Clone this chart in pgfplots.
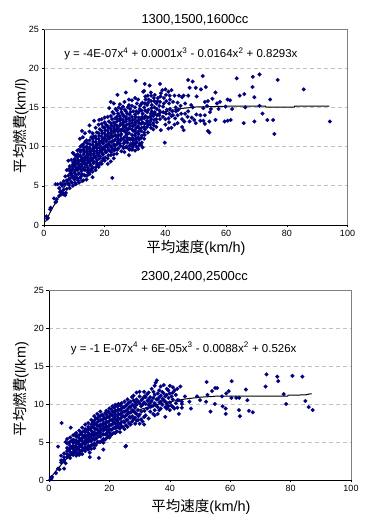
\documentclass[border=0pt]{standalone}
\usepackage{pgfplots}
\pgfplotsset{compat=1.18}
\usepackage{fontspec}
\setmainfont{Liberation Sans}
\newfontfamily\cjk{Noto Sans CJK JP}
\definecolor{pts}{HTML}{000080}
\definecolor{fr}{HTML}{808080}
\definecolor{gr}{HTML}{C0C0C0}
\pgfplotsset{
 base/.style={
  scale only axis, anchor=south west, xmin=0,xmax=100,ymin=0,ymax=25,
  xtick={0,20,40,60,80,100}, ytick={0,5,10,15,20,25},
  axis x line*=bottom, axis y line*=left, axis line style={-,black,line width=0.6pt},
  tick align=outside, major tick length=2.5pt, tick style={black,line width=0.5pt},
  ymajorgrids, grid style={gr,dash pattern=on 4pt off 3pt,line width=0.7pt},
  /pgf/number format/assume math mode=true,
  tick label style={font=\fontsize{9}{10}\selectfont},
  xticklabel style={yshift=1pt}, yticklabel style={xshift=1pt},
  clip=false,
 },
 pt/.style={only marks, mark=square*, mark size=1.4pt, mark options={rotate=45,pts,draw=pts,fill=pts,line width=0.1pt}, pts},
 tr/.style={black, line width=1pt, no marks, sharp plot},
}
\begin{document}
\begin{tikzpicture}
\useasboundingbox (0pt,0pt) rectangle (376pt,516pt);
% TOP
\begin{axis}[base, at={(44pt,291pt)}, width=303.5pt, height=196pt]
\draw[fr,line width=0.7pt] (rel axis cs:0,1) -- (rel axis cs:1,1) -- (rel axis cs:1,0);
\addplot[pt] coordinates {
(94.2,13.2)(85.6,17.3)(77,18.5)(71,19.2)(68.8,18.9)(63.5,18.7)(68.7,17.6)(69.3,16.3)(74.5,16)(75.9,11.6)(75.5,13.4)(73.6,13.4)(69.3,13.2)(65.8,13)(61.5,13.4)(60.5,13.3)(59.5,13.2)(56.5,13.4)(72,14.2)(71,15.2)(66.3,15)(66,16.7)(64.5,16.5)(60.5,16)(61.3,15.9)(52.3,19)(47.5,18.5)(49,18.3)(50,17.5)(48,17.5)(46,16.5)
(56.5,16.9)(53.3,17.6)(51.7,17.3)(50.3,16.4)(58,15.7)(57,15.5)(55.5,16.1)(54,15.8)(53,15.7)(62,14.8)(59.8,15.1)(57.5,14.8)(55,14.8)(54.7,14.4)(53.7,15.2)(52.5,14.9)(51.5,14)(50.2,14.1)(53,14)(49.5,13.4)(50,13)(51.5,13.3)(52.5,13.3)(53,12.9)(54.5,13.2)(54,12)(54.5,11.8)(48.7,13.7)(47.5,14.5)(46.5,14.2)(45.5,13.5)(44,13)(45.5,12.5)(46,12.1)(43,12.8)(42,12.4)(41,12.3)(40,12.8)(39.8,10.5)(38.5,12.1)
(45,15.2)(44,15.6)(43,16.5)(44.5,16.5)(45.5,16.3)(47.5,16.5)(48.5,15.3)(46.5,15.5)(49,15)(42,17.2)(41,17)(40,17.3)(39,17.2)(38.2,18)(38.5,16.8)(39.5,16.2)(41.5,16)(42.5,15.7)(43.5,14.5)(42.5,14)(41.5,14.8)(40.5,14.7)(39.5,15.5)(38,15.2)(40,13.5)(41,13.6)(42,13.9)(44,14)(38,14)(37,13.5)(36,13)(35,12.8)(37,12.5)(36,12.2)(33,11)(35,13.2)(34,12.5)
(30.2,18.4)(33.2,18)(34.8,17.8)(33,17.1)(32.7,17)(30,16.2)(27,16.9)(24.2,16.6)(26.5,15.7)(28,16)(29,15.9)(31,16)(32,15.4)(33.5,16)(34.5,16)(35.3,16.5)(36.5,16.6)(37.5,16.2)(37,15.5)(35.5,15.3)(34,15.3)(33,15)(31.5,14.8)(30,15)(29,15.2)(28,15.3)(26,15.1)(25,15.4)(23,15.5)(22,15.7)(21.5,14.9)(24,14.6)(25.5,14.4)(27,14.5)(28.5,14.4)(30,14.1)(31,14.3)(32.5,14.2)(34,14.4)(35.5,14.5)(36.5,14.4)(38,14.6)
(20,13.7)(19,13.5)(18.2,13.4)(16.5,13.3)(15,12.7)(13.5,11.7)(12.5,12)(11.8,11)(12.8,11.2)(14,10.8)(15,11.9)(16,11.7)(17,12.4)(18,12.8)(19,12.9)(20,13.1)(21,13.8)(22,13.9)(23,14.2)(24,13.8)(25,13.9)(26,14.1)(27,13.8)(28,13.6)(29,13.8)(30,13.5)(31,13.3)(32,13.5)(33,13.6)(34,13.3)(35,13.8)(36,13.9)
(11,9.5)(12,10)(13,10.3)(14,10)(15,10.8)(16,11)(17,11.3)(18,11.7)(19,12)(20,12.4)(21,12.6)(22,13)(23,13.1)(24,13.2)(25,13.3)(26,13.4)(27,13.2)(28,12.9)(29,13)(30,12.8)(31,12.6)(32,12.9)(33,12.5)(34,13.1)
(9.5,9.2)(10,9)(11,9)(12,9.3)(13,9.6)(14,9.4)(15,9.9)(16,10.2)(17,10.6)(18,11)(19,11.3)(20,11.7)(21,12)(22,12.3)(23,12.5)(24,12.7)(25,12.7)(26,12.8)(27,12.4)(28,12.3)(29,12.2)(30,12.1)(31,11.9)(32,12)(33,11.8)
(9,8.3)(10,8.4)(11,8.6)(12,8.8)(13,9)(14,8.8)(15,9.4)(16,9.6)(17,10)(18,10.4)(19,10.7)(20,11.1)(21,11.4)(22,11.7)(23,11.9)(24,12.1)(25,12.1)(26,12.2)(27,11.8)(28,11.7)(29,11.5)(30,11.4)(31,11.2)(32,11.1)
(8,8.2)(8.5,7.5)(9.5,7.7)(10.5,7.9)(11.5,8.1)(12.5,8.4)(13.5,8.3)(14.5,8.7)(15.5,9.1)(16.5,9.4)(17.5,9.8)(18.5,10.1)(19.5,10.5)(20.5,10.8)(21.5,11.1)(22.5,11.3)(23.5,11.5)(24.5,11.5)(25.5,11.6)(26.5,11.2)(27.5,11.1)(28.5,10.9)(29.5,10.8)(30.5,10.6)(31.5,10.4)
(7.5,7)(8.5,6.9)(9.5,7.1)(10.5,7.3)(11.5,7.5)(12.5,7.8)(13.5,7.7)(14.5,8.2)(15.5,8.5)(16.5,8.8)(17.5,9.2)(18.5,9.5)(19.5,9.9)(20.5,10.2)(21.5,10.5)(22.5,10.7)(23.5,10.9)(24.5,10.9)(25.5,11)(26.5,10.6)(27.5,10.5)(28.5,10.3)(29.5,10.2)(30.5,10)(32,10.2)(32.5,9.9)
(7,6.2)(8,6.3)(9,6.5)(10,6.7)(11,7)(12,7.2)(13,7.1)(14,7.6)(15,7.9)(16,8.2)(17,8.6)(18,8.9)(19,9.3)(20,9.6)(21,9.9)(22,10.1)(23,10.3)(24,10.3)(25,10.4)(26,10)(27,9.9)(28,9.7)(29,9.6)(30,9.5)(31,9.7)
(6.5,5.6)(7.5,5.7)(8.5,5.9)(9.5,6.1)(10.5,6.4)(11.5,6.6)(12.5,6.5)(13.5,7)(14.5,7.3)(15.5,7.6)(16.5,8)(17.5,8.3)(18.5,8.7)(19.5,9)(20.5,9.3)(21.5,9.5)(22.5,9.7)(23.5,9.7)(24.5,9.8)(25.5,9.4)(28,8.9)(26.5,9.3)(23,8.5)(22,8.1)(21,7.8)(22.5,6)
(6,5)(7,5.2)(8,5.3)(9,5.5)(10,5.8)(11,6)(12,6)(13,5.7)(14,5.8)(15,6.5)(16,6.1)(17,7)(18,7.4)(19,7.8)(20,8.2)(21,8.5)(22,8.9)(23,9)(24,9.1)(16,6.8)(14.5,6.7)(12.5,5.6)(13.5,6.3)(15.5,7.1)(17.5,7.7)(18.5,7.9)(19.5,8.5)
(3.8,5.2)(4.5,5.2)(5.5,5.3)(6,5.2)(5,4.7)(5.5,4.3)(6.5,4.5)(7.5,4.6)(8.5,4.7)(9.5,5)(10.5,5.2)(11.5,5.4)(5,3.7)(5.7,3.9)(6.5,3.9)(7.2,4.1)(4.2,3.3)(4,3)(3.8,2.9)(3.3,3.4)(2.2,2.2)(2,2)(0.8,1.1)(1,0.8)(1.3,0.9)(5.3,4.2)(6.2,4.1)(7,3.8)
(8.3,5.1)(8.2,5.8)(8.7,6.6)(8.4,7.2)(9.2,5.4)(9.3,6.3)(9.1,6.9)(9.4,7.4)(9.7,8)(10.2,5.4)(10.3,6.1)(10.4,7)(10.2,7.6)(10.3,8.2)(10.6,8.8)(11.2,5.7)(11.3,6.5)(11.4,7.2)(11.3,7.8)(11.2,8.3)(11.4,8.9)(11.6,9.6)(12.2,6.2)(12.3,6.9)(12.4,7.5)(12.2,8.2)(12.4,8.6)(12.3,9.5)(12.6,10.2)(13.2,6.4)(13.3,7.3)(13.2,8)(13.4,8.6)(13.3,9.3)(13.2,9.9)(13.6,10.6)(14.2,6.3)(14.3,7)(14.2,7.9)(14.4,8.5)(14.3,9.1)(14.2,9.7)(14.4,10.4)
(15.2,6.9)(15.3,7.6)(15.2,8.2)(15.4,8.9)(15.3,9.6)(15.2,10.3)(15.6,11.2)(16.2,7.3)(16.3,7.9)(16.2,8.5)(16.4,9.1)(16.3,9.8)(16.2,10.6)(16.4,11.3)(17.2,7.4)(17.3,8)(17.2,8.8)(17.4,9.5)(17.3,10.3)(17.2,11)(17.4,11.8)(18.2,7.7)(18.3,8.5)(18.2,9.2)(18.4,9.9)(18.3,10.7)(18.2,11.4)(18.4,12.2)(19.2,8.2)(19.3,9)(19.2,9.7)(19.4,10.4)(19.3,11)(19.2,11.7)(19.4,12.5)(20.2,8.6)(20.3,9.3)(20.2,10)(20.4,10.7)(20.3,11.4)(20.2,12.1)(20.4,12.8)
(21.2,8.9)(21.3,9.6)(21.2,10.3)(21.4,11)(21.3,11.7)(21.2,12.4)(21.4,13.2)(22.2,9.3)(22.3,9.9)(22.2,10.6)(22.4,11.2)(22.3,12)(22.2,12.7)(22.4,13.5)(22.6,14.4)(23.2,9.5)(23.3,10.1)(23.2,10.8)(23.4,11.4)(23.3,12.2)(23.2,12.9)(23.4,13.6)(23.6,14.8)(24.2,9.6)(24.3,10.6)(24.2,11.2)(24.4,11.9)(24.3,12.4)(24.2,13.5)(24.4,14.2)(24.6,15)(25.2,10.1)(25.3,10.8)(25.2,11.4)(25.4,12)(25.3,12.9)(25.2,13.6)(25.4,14.8)(26.2,9.8)(26.3,10.4)(26.2,11)(26.4,12)(26.3,12.6)(26.2,13.1)(26.4,13.8)(26.6,14.7)
(27.2,10)(27.3,10.8)(27.2,11.5)(27.4,12.1)(27.3,12.8)(27.2,13.5)(27.4,14.2)(27.6,15)(28.2,9.6)(28.3,10.1)(28.2,11)(28.4,12.6)(28.3,13.3)(28.2,14.1)(28.4,14.8)(29.2,9.9)(29.3,10.5)(29.2,11.1)(29.4,12)(29.3,12.6)(29.2,13.4)(29.4,14.5)(30.2,10.4)(30.3,11)(30.2,11.7)(30.4,12.4)(30.3,13.1)(30.2,13.8)(30.4,14.5)(30.6,15.5)(31.2,10.1)(31.3,10.9)(31.2,11.6)(31.4,12.3)(31.3,13)(31.2,13.7)(31.4,14.5)(31.6,15.2)(32.2,10.5)(32.3,11.4)(32.2,12.4)(32.4,13.1)(32.3,13.8)(32.2,14.6)(32.4,15.6)(33.2,11.5)(33.3,12.2)(33.2,12.9)(33.4,13.9)(33.3,14.6)(33.2,15.5)(33.4,16.4)
(34.2,11.8)(34.3,12.8)(34.2,13.7)(34.4,14.7)(34.3,15.6)(34.2,16.5)(35.2,12.4)(35.3,13.5)(35.2,14.2)(35.4,14.9)(35.3,15.8)(35.2,16.9)(36.2,12.7)(36.3,13.4)(36.2,14.2)(36.4,15)(36.3,15.8)(36.2,16.2)(37.2,13.1)(37.3,14)(37.2,14.8)(37.4,15.8)(38.2,13.5)(38.3,14.4)(38.2,15.7)(38.4,16.4)(39.2,13.8)(39.3,14.4)(39.2,15.1)(40.2,14.2)(40.3,15.8)(40.2,16.6)(41.2,13.1)(41.3,14.2)(41.2,15.5)(41.4,16.5)(42.3,14.5)(43.2,13.6)(43.4,15)(44.3,14.7)(45.2,14.2)(46.2,13.2)(47.3,13.8)(48,13.2)
};
\addplot[tr] coordinates {(0.5,0.4)(2,1.6)(5,3.7)(7.5,5.4)(10,6.8)(12.5,8)(15,9.1)(17.5,10.1)(20,10.9)(22.5,11.6)(25,12.2)(27.5,12.8)(30,13.2)(32.5,13.6)(35,13.9)(37.5,14.2)(40,14.45)(45,14.85)(50,15.05)(55,15.1)(60,15.15)(73,15.15)(73.1,15.05)(82.5,15.05)(82.6,15.15)(94,15.15)};
\node[font=\fontsize{11.5}{14}\selectfont] at (axis cs:45.1,21.8) {y = -4E-07x\textsuperscript{4} + 0.0001x\textsuperscript{3} - 0.0164x\textsuperscript{2} + 0.8293x};
\end{axis}
\node[font=\fontsize{13}{15}\selectfont] at (195pt,496pt) {1300,1500,1600cc};
\node[font=\fontsize{14.5}{16}\selectfont] at (196pt,268.5pt) {{\cjk 平均速度}(km/h)};
\node[font=\fontsize{14.5}{16}\selectfont,rotate=90] at (21pt,390pt) {{\cjk 平均燃費}(km/l)};
% BOTTOM
\begin{axis}[base, at={(49pt,36pt)}, width=302pt, height=190pt]
\draw[fr,line width=0.7pt] (rel axis cs:0,1) -- (rel axis cs:1,1) -- (rel axis cs:1,0);
\addplot[pt] coordinates {
(87.3,9.2)(86,9.6)(84.9,10.4)(83.9,13.6)(80.6,13.7)(78.5,10)(77.7,11.3)(75.9,13)(75.6,13.6)(72,13.9)(71.7,12.3)(67.5,8.9)(66.2,9.1)(65.7,10.5)(65.2,11.9)(63.2,8.4)(62.9,9.2)(63,10.8)(62,10.8)(60.5,13)(60.4,10.8)(59.5,11.7)(58.7,11.4)(58.5,9.4)(58.5,8.7)(57.5,9.7)(57.3,11)(55.7,12.1)(55,12.1)(54.9,10)(54,11.7)(53.5,9)(52.2,12.9)(52.5,11.2)(52,10.3)(50,10.5)(49,11)(47,9.4)(46.5,10.3)(45,11)(44,10)(44,9.5)(43,8.7)(43.5,12.3)(42.5,12)(25.3,4.4)(25.5,4.5)(4.2,7.5)(7.2,6.9)(3,4.4)(16.5,2.9)(13.5,3)(18,4)
(41,12.2)(40,12.4)(39,12)(38,12.5)(37,12.3)(36.5,11.8)(35.7,13.1)(35.3,12.8)(35,12.4)(34,12)(33,11.5)(31.5,11.6)(30,11.6)(28,11.1)(29,11.5)(27.5,10.9)(26,10.6)(35,11.2)(36,11.4)(37,11.1)(38,11.4)(39,11.2)(40,11.4)(41,11.5)(42,11.2)(43,10.5)(44,10.3)(42,10.1)(41,10.6)(40,10.2)(39,10)(38,10.5)(37,10.3)(36,10.6)(35,10.1)(34,10.4)(33,10.6)(32,10.9)(31,10.7)(30,11)(29,10.6)(28,10.5)(27,10.3)(42.5,9.5)(41,9.6)(40,9.2)(39,9.4)(38.5,8.3)(37,9.4)(36,9.6)(35,9.2)(34,9.7)(33,9.9)(33.5,9)(32,10)(31,9.9)(30,10.1)(29,9.9)(28,9.8)(27,9.6)(26,10)(25,10.3)(24,10.1)(23,10)(22,9.9)(21,9.7)(20,9.4)(19,9.1)(36,8.7)(35,8.5)(33,8.1)(32,8.5)(31,7.7)(31.5,7.3)(30,7.4)(29,8.7)(28,9.1)(27,8.9)(30,8.6)(28.5,7.4)
(26,9.3)(25,9.6)(24,9.4)(23,9.3)(22,9.1)(21,9)(20,8.8)(19,8.6)(18,8.4)(17,9)(16,8.7)(15,8.4)(14,7.9)(13,7.5)(12,7.3)(11,6.9)(10,6.5)(9,6.2)(8,5.9)(7,5.6)(6,5.4)(5.5,5)(6,4.8)(7,5)(8,5.3)(9,5.7)(10,5.9)(11,6.3)(12,6.7)(13,7)(14,7.3)(15,7.8)(16,8.1)(17,8.4)(18,8)(19,8.2)(20,8.3)(21,8.5)(22,8.6)(23,8.7)(24,8.8)(25,9)(26,8.7)(27,8.2)(28,8)(29,7.8)(26,7.9)(25,8.3)(24,8.2)(23,8.1)(22,8)(21,7.9)(20,7.8)(19,7.7)(18,7.5)(17,7.9)(16,7.6)(15,7.3)(14,6.9)(13,6.6)(12,6.3)(11,5.9)(10,5.5)(9,5.2)(8,4.9)(7,4.5)(6,4.2)
(27,7.3)(26,7)(25,7.6)(24,7.6)(23,7.5)(22,7.4)(21,7.3)(20,7.2)(19,7.1)(18,7)(17,7.3)(16,7.1)(15,6.8)(14,6.5)(13,6.2)(12,5.9)(11,5.5)(10,5.1)(9,4.8)(8,4.5)(7,4.1)(6,3.8)(5,3.5)(25,6.7)(24,7)(23,6.9)(22,6.8)(21,6.7)(20,6.7)(19,6.6)(18,6.5)(17,6.8)(16,6.6)(15,6.3)(14,6)(13,5.8)(12,5.5)(11,5.1)(10,4.7)(9,4.4)(8,4.1)(7,3.7)(6,3.4)(5,3)
(23.5,6.3)(22,6.2)(21,6.1)(20,6.2)(19,6.1)(18,6)(17,6.2)(16,6.1)(15,5.8)(14,5.6)(13,5.4)(12,5.1)(11,4.7)(10,4.3)(9,4)(8,3.7)(7,3.3)(6,3)(5,2.5)(4,2.6)(20,5.6)(19,5.5)(18,5.4)(17,5.7)(16,5.6)(15,5.3)(14,5.1)(13,5)(12,4.7)(11,4.3)(10,3.9)(9,3.6)(8,3.3)(7,2.9)(18,4.9)(17,5)(16,5)(15,4.8)(14,4.6)(13,4.5)(12,4.3)(11,3.9)(10,3.5)(9,3.2)(15,4.2)(14,4.1)(13,4)(12,3.8)(11,3.4)(10,3.3)(13.5,3.6)
(5,2.7)(5.5,2.2)(4,3.2)(4,2.3)(3.5,1.4)(3,1.5)(5,1.5)(2.3,0.9)(0.6,0.3)(0.5,0.1)(0.8,0.2)(1,0.4)
(6.5,3.2)(6.6,4)(6.5,4.9)(7.5,3.4)(7.6,4.3)(7.5,5.2)(8.5,3.6)(8.6,4.4)(8.5,5.2)(8.6,6)(9.5,3.5)(9.6,4.3)(9.5,5)(9.6,5.8)(10.5,3.8)(10.6,4.6)(10.5,5.3)(10.6,6.2)(11.5,4)(11.6,4.8)(11.5,5.6)(11.6,6.4)(12.5,4.2)(12.6,5)(12.5,5.8)(12.6,6.6)(13.5,4.4)(13.6,5.2)(13.5,6)(13.6,6.8)(14.5,4.6)(14.6,5.4)(14.5,6.2)(14.6,7)(14.5,7.6)(15.5,4.6)(15.5,5.4)(15.6,6)(15.5,6.7)(15.6,7.4)(15.5,8.1)(16.5,5)(16.6,5.8)(16.5,6.4)(16.6,7.1)(16.5,7.8)(16.6,8.4)(17.5,5.2)(17.6,6)(17.5,6.6)(17.6,7.2)(17.5,7.9)(17.6,8.6)
(18.5,5.3)(18.6,6)(18.5,6.8)(18.6,7.4)(18.5,8.1)(18.6,8.8)(19.5,5.8)(19.6,6.4)(19.5,7)(19.6,7.6)(19.5,8.3)(19.6,9)(20.5,5.9)(20.6,6.6)(20.5,7.2)(20.6,7.9)(20.5,8.6)(20.6,9.3)(21.5,6.2)(21.6,6.9)(21.5,7.6)(21.6,8.2)(21.5,8.9)(21.6,9.5)(22.5,6.4)(22.6,7.1)(22.5,7.8)(22.6,8.4)(22.5,9.1)(22.6,9.7)(23.5,6.8)(23.6,7.3)(23.5,8)(23.6,8.6)(23.5,9.2)(23.6,9.8)(24.5,7)(24.6,7.7)(24.5,8.4)(24.6,9)(24.5,9.6)(25.5,7.2)(25.6,7.9)(25.5,8.5)(25.6,9.1)(25.5,9.8)(26.5,7.5)(26.6,8.3)(26.5,8.9)(26.6,9.6)(26.5,10.2)(27.5,7.7)(27.6,8.4)(27.5,9.2)(27.6,9.9)(28.5,8.2)(28.6,8.8)(28.5,9.5)(28.6,10.2)(29.5,7.9)(29.6,8.4)(29.5,9.2)(29.6,10.3)(30.5,8)(30.6,9)(30.5,9.7)(30.6,10.5)(31.5,8.3)(31.6,9.1)(31.5,10.2)(31.6,11)(32.5,9.4)(32.6,10.4)(32.5,11.3)(33.5,9.6)(33.6,10.2)(33.5,10.9)(34.5,8.7)(34.6,9.8)(34.5,10.8)(34.6,11.6)(35.5,9.8)(35.6,10.6)(36.5,9.2)(36.6,10.2)(36.5,10.9)(37.5,9.9)(37.6,10.7)(37.5,11.6)(38.5,9.6)(38.6,10.3)(38.5,11)(39.5,9.7)(39.6,10.8)(39.5,11.8)(40.5,9.8)(40.6,11)(41.5,9.4)(41.6,11.8)(42.5,10.5)
};
\addplot[tr] coordinates {(0,0)(2.5,1.3)(5,2.45)(7.5,3.5)(10,4.45)(12.5,5.3)(15,6.05)(17.5,6.7)(20,7.3)(22.5,7.9)(25,8.4)(27.5,8.85)(30,9.25)(32.5,9.55)(35,9.85)(37.5,10.1)(40,10.3)(45,10.65)(50,10.9)(54.8,11)(55,11.05)(79,11.05)(79.2,11.15)(85,11.2)(86,11.3)(87,11.35)};
\node[font=\fontsize{11.5}{14}\selectfont] at (axis cs:44.6,17.3) {y = -1 E-07x\textsuperscript{4} + 6E-05x\textsuperscript{3} - 0.0088x\textsuperscript{2} + 0.526x};
\end{axis}
\node[font=\fontsize{13}{15}\selectfont] at (194.5pt,239pt) {2300,2400,2500cc};
\node[font=\fontsize{14.5}{16}\selectfont] at (201pt,9.5pt) {{\cjk 平均速度}(km/h)};
\node[font=\fontsize{14.5}{16}\selectfont,rotate=90] at (21pt,127pt) {{\cjk 平均燃費}(l/km)};
\end{tikzpicture}
\end{document}
